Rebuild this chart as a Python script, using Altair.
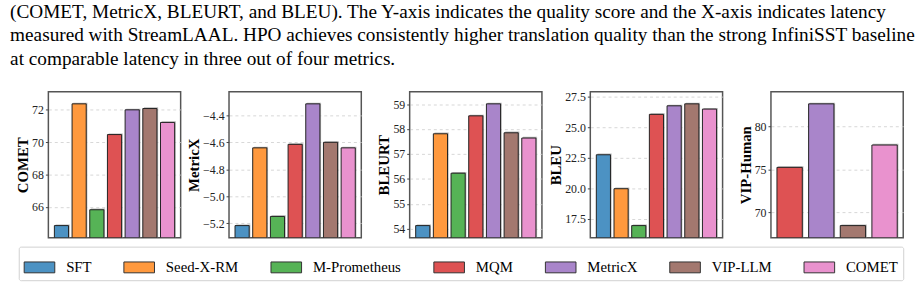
import altair as alt
import pandas as pd

methods = ["SFT", "Seed-X-RM", "M-Prometheus", "MQM", "MetricX", "VIP-LLM", "COMET"]
# tab10 colours as seen at 80% opacity on white
colors = ["#4c92c3", "#ff993e", "#56b356", "#de5253", "#a985ca", "#a3786f", "#e992ce"]

comet = [64.84, 72.37, 65.82, 70.47, 72.00, 72.08, 71.22]
metricx = [-5.217, -4.641, -5.149, -4.615, -4.315, -4.600, -4.641]
bleurt = [54.13, 57.81, 56.23, 58.53, 59.01, 57.85, 57.64]
bleu = [22.76, 19.98, 16.96, 26.07, 26.77, 26.93, 26.50]

vip_methods = ["MQM", "MetricX", "VIP-LLM", "COMET"]
vip_human = [75.25, 82.64, 68.47, 77.85]

comet_ticks = [66, 68, 70, 72]
metricx_ticks = [-5.2, -5.0, -4.8, -4.6, -4.4]
bleurt_ticks = [54, 55, 56, 57, 58, 59]
bleu_ticks = [17.5, 20.0, 22.5, 25.0, 27.5]
vip_ticks = [70, 75, 80]

caption = [
    "(COMET, MetricX, BLEURT, and BLEU). The Y-axis indicates the quality score and the X-axis indicates latency",
    "measured with StreamLAAL. HPO achieves consistently higher translation quality than the strong InfiniSST baseline",
    "at comparable latency in three out of four metrics.",
]

SERIF = "Liberation Serif"

legend = alt.Legend(
    orient="none", legendX=-30, legendY=157, direction="horizontal", columns=7,
    title=None, symbolType="M-1,-0.355H1V0.355H-1Z", symbolSize=961,
    symbolStrokeColor="#333", symbolStrokeWidth=1, symbolOpacity=1,
    labelFont=SERIF, labelFontSize=15, labelColor="black", labelOffset=11,
    columnPadding=30, padding=5, strokeColor="#d0d0d0", fillColor="white",
    cornerRadius=2,
)


def panel(names, values, title, ticks, fmt, pad_outer):
    df = pd.DataFrame({"method": names, "value": values})
    lo, hi = min(values), max(values)
    r = hi - lo
    dom = [lo - 0.1 * r, hi + 0.1 * r]
    x = alt.X("method:N", sort=names, axis=None,
              scale=alt.Scale(paddingInner=0.2, paddingOuter=pad_outer))
    y = alt.Y("value:Q",
              scale=alt.Scale(domain=dom, nice=False, zero=False),
              axis=alt.Axis(title=title, values=ticks, format=fmt))
    base = alt.Chart(df)
    shadow = base.mark_bar(
        color="#888", opacity=0.6, xOffset=1.2, yOffset=-1.2, clip=True
    ).encode(x=x, y=y, y2=alt.datum(dom[0]))
    bars = base.mark_bar(
        stroke="#222", strokeWidth=1, fillOpacity=1, clip=True
    ).encode(
        x=x, y=y, y2=alt.datum(dom[0]),
        color=alt.Color("method:N", scale=alt.Scale(domain=methods, range=colors),
                        legend=legend),
    )
    return alt.layer(shadow, bars).properties(width=134, height=148)


charts = [
    panel(methods, comet, "COMET", comet_ticks, "d", 0.34),
    panel(methods, metricx, "MetricX", metricx_ticks, ".1f", 0.34),
    panel(methods, bleurt, "BLEURT", bleurt_ticks, "d", 0.34),
    panel(methods, bleu, "BLEU", bleu_ticks, ".1f", 0.34),
    panel(vip_methods, vip_human, "VIP-Human", vip_ticks, "d", 0.19),
]

chart = alt.hconcat(*charts, spacing=49, bounds="flush").properties(
    title=alt.TitleParams(text=caption, anchor="start", font=SERIF, fontSize=19.5,
                          fontWeight="normal", lineHeight=24, color="black",
                          offset=21, frame="bounds", dx=-5),
    padding={"left": 10, "top": 0, "right": 5, "bottom": 5},
).configure_view(
    stroke="#555", strokeWidth=1.5
).configure_axis(
    labelFont=SERIF, labelFontSize=12, labelColor="#222",
    titleFont=SERIF, titleFontSize=15, titleFontWeight="bold", titleColor="black",
    titlePadding=1,
    tickSize=3, tickColor="#444", labelPadding=2, domain=False,
    grid=True, gridDash=[3, 3], gridColor="#cccccc", gridOpacity=0.8,
)

chart.save("out.html", embed_options={"renderer": "svg", "actions": False})
